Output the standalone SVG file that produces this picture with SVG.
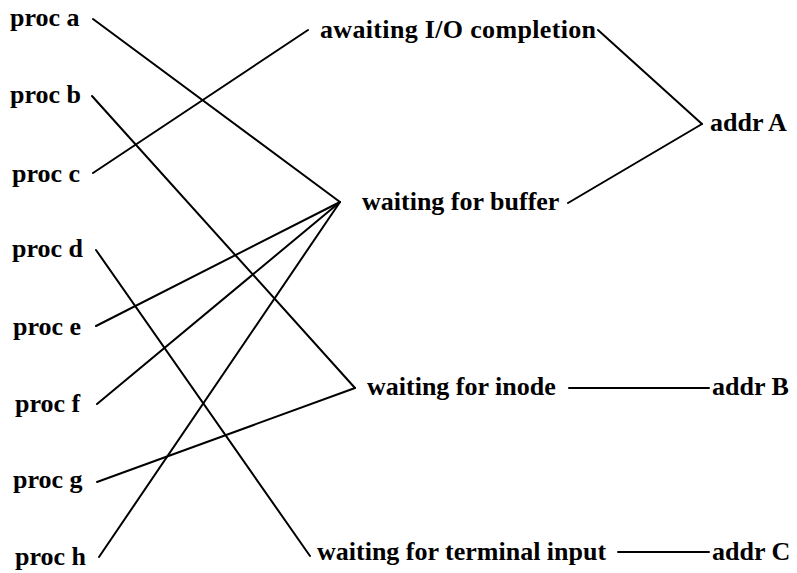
<svg xmlns="http://www.w3.org/2000/svg" width="797" height="573" viewBox="0 0 797 573">
<style>
text{font-family:"Liberation Serif","Times New Roman",serif;font-weight:bold;font-size:26px;fill:#000}
.c line{stroke:#000;stroke-width:2;stroke-linecap:round}
</style>
<rect width="797" height="573" fill="#fff"/>
<g id="proc-a"><text x="10" y="26">proc a</text></g>
<g id="proc-b"><text x="10" y="103">proc b</text></g>
<g id="proc-c"><text x="12" y="182">proc c</text></g>
<g id="proc-d"><text x="12" y="257">proc d</text></g>
<g id="proc-e"><text x="13" y="335">proc e</text></g>
<g id="proc-f"><text x="15" y="412">proc f</text></g>
<g id="proc-g"><text x="13" y="488">proc g</text></g>
<g id="proc-h"><text x="15" y="565">proc h</text></g>
<g id="awaiting-io"><text x="320" y="38" textLength="276" lengthAdjust="spacing">awaiting I/O completion</text></g>
<g id="waiting-buffer"><text x="362" y="210">waiting for buffer</text></g>
<g id="waiting-inode"><text x="367" y="395">waiting for inode</text></g>
<g id="waiting-terminal"><text x="317" y="560">waiting for terminal input</text></g>
<g id="addr-a"><text x="710" y="131">addr A</text></g>
<g id="addr-b"><text x="712" y="395">addr B</text></g>
<g id="addr-c"><text x="712" y="560">addr C</text></g>
<g id="connectors" class="c">
<line x1="93" y1="19" x2="340" y2="202"/>
<line x1="93" y1="173" x2="308" y2="30"/>
<line x1="92" y1="96" x2="355" y2="388"/>
<line x1="96" y1="250" x2="310" y2="556"/>
<line x1="96" y1="326" x2="340" y2="202"/>
<line x1="97" y1="404" x2="340" y2="202"/>
<line x1="97" y1="482" x2="355" y2="388"/>
<line x1="99" y1="557" x2="340" y2="202"/>
<line x1="598" y1="30" x2="702" y2="124"/>
<line x1="568" y1="203" x2="702" y2="124"/>
<line x1="569" y1="388" x2="709" y2="388"/>
<line x1="618" y1="552" x2="709" y2="552"/>
</g>
</svg>
